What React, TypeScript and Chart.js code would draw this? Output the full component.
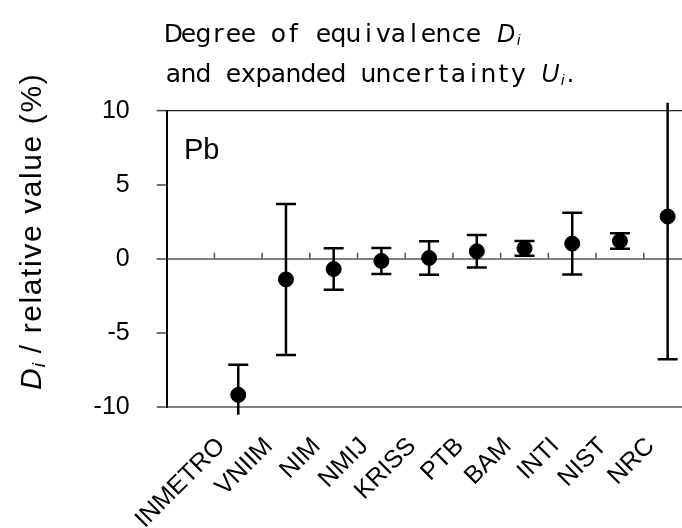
import React, { useEffect, useRef } from "react";
import { Chart, registerables } from "chart.js";

Chart.register(...registerables);

// ---- data ----
const institutes = ["", "INMETRO", "VNIIM", "NIM", "NMIJ", "KRISS", "PTB", "BAM", "INTI", "NIST", "NRC"];
const degreeValues: (number | null)[] = [null, -9.2, -1.4, -0.7, -0.15, 0.05, 0.5, 0.7, 1.02, 1.2, 2.85];
const expandedU: (number | null)[] = [null, 2.03, 5.1, 1.4, 0.88, 1.13, 1.1, 0.5, 2.08, 0.52, 9.65];
const yTickValues = [-10, -5, 0, 5, 10];
const yMin = -10;
const yMax = 10;
const elementLabel = "Pb";
const titleLine1 = "Degree of equivalence ";
const titleLine2 = "and expanded uncertainty ";

const SANS = "'Liberation Sans', Arial, sans-serif";
const GOTHIC = "'DejaVu Sans', sans-serif";

function drawMono(ctx: CanvasRenderingContext2D, text: string, x: number, y: number, cell: number) {
  ctx.textAlign = "center";
  for (let i = 0; i < text.length; i++) {
    ctx.fillText(text[i], x + i * cell + cell / 2, y);
  }
  return x + text.length * cell;
}

const errorBarPlugin = {
  id: "errorBars",
  beforeDatasetsDraw(chart: any) {
    const { ctx, chartArea, scales } = chart;
    const xs = scales.x;
    const ys = scales.y;
    ctx.save();
    // category tick marks on the zero line (pointing up)
    const y0 = ys.getPixelForValue(0);
    ctx.strokeStyle = "#555";
    ctx.lineWidth = 1.5;
    for (let k = 1; k < institutes.length; k++) {
      const xb = (xs.getPixelForValue(k - 1) + xs.getPixelForValue(k)) / 2;
      ctx.beginPath();
      ctx.moveTo(xb, y0 - 6);
      ctx.lineTo(xb, y0);
      ctx.stroke();
    }
    ctx.beginPath();
    ctx.rect(chartArea.left, chartArea.top - 8, chartArea.right - chartArea.left, chartArea.bottom - chartArea.top + 16);
    ctx.clip();
    ctx.strokeStyle = "#000";
    ctx.lineWidth = 2.5;
    for (let i = 0; i < degreeValues.length; i++) {
      const d = degreeValues[i];
      const u = expandedU[i];
      if (d == null || u == null) continue;
      const x = xs.getPixelForValue(i);
      const yt = ys.getPixelForValue(d + u);
      const yb = ys.getPixelForValue(d - u);
      ctx.beginPath();
      ctx.moveTo(x, yt);
      ctx.lineTo(x, yb);
      ctx.moveTo(x - 10, yt);
      ctx.lineTo(x + 10, yt);
      ctx.moveTo(x - 10, yb);
      ctx.lineTo(x + 10, yb);
      ctx.stroke();
    }
    ctx.restore();
  },
};

const textPlugin = {
  id: "texts",
  afterDraw(chart: any) {
    const { ctx } = chart;
    ctx.save();
    ctx.fillStyle = "#000";
    ctx.textBaseline = "alphabetic";

    // title
    ctx.font = `25px ${GOTHIC}`;
    let x = drawMono(ctx, titleLine1, 166, 41.5, 15);
    ctx.textAlign = "left";
    ctx.font = `italic 25px ${SANS}`;
    ctx.fillText("D", x + 1, 41.5);
    let w = ctx.measureText("D").width;
    ctx.font = `italic 15px ${SANS}`;
    ctx.fillText("i", x + 1 + w + 2, 45);

    ctx.font = `25px ${GOTHIC}`;
    x = drawMono(ctx, titleLine2, 166, 81.5, 15);
    ctx.textAlign = "left";
    ctx.font = `italic 25px ${SANS}`;
    ctx.fillText("U", x, 81.5);
    w = ctx.measureText("U").width;
    ctx.font = `italic 15px ${SANS}`;
    ctx.fillText("i", x + w + 2, 85);
    const wi = ctx.measureText("i").width;
    ctx.font = `25px ${GOTHIC}`;
    ctx.fillText(".", x + w + 2 + wi + 2, 81.5);

    // y axis title
    ctx.translate(41, 390);
    ctx.rotate(-Math.PI / 2);
    ctx.textAlign = "left";
    ctx.font = `italic 30px ${SANS}`;
    ctx.fillText("D", 0, 0);
    let cx = ctx.measureText("D").width;
    ctx.font = `italic 19px ${SANS}`;
    ctx.fillText("i", cx + 1, 4);
    cx += ctx.measureText("i").width + 1;
    (ctx as any).letterSpacing = "1.6px";
    ctx.font = `30px ${SANS}`;
    ctx.fillText(" / relative value (%)", cx, 0);
    (ctx as any).letterSpacing = "0px";
    ctx.setTransform(1, 0, 0, 1, 0, 0);

    // panel label
    ctx.font = `29px ${SANS}`;
    ctx.textAlign = "left";
    ctx.fillText(elementLabel, 184, 159);
    ctx.restore();
  },
};

export default function App() {
  const ref = useRef<HTMLCanvasElement | null>(null);
  useEffect(() => {
    if (!ref.current) return;
    const chart = new Chart(ref.current, {
      type: "line",
      data: {
        labels: institutes,
        datasets: [
          {
            data: degreeValues as any,
            showLine: false,
            pointRadius: 7.5,
            pointHoverRadius: 7.5,
            pointBackgroundColor: "#000",
            pointBorderColor: "#000",
            borderColor: "#000",
            backgroundColor: "#000",
          },
        ],
      },
      options: {
        animation: false,
        responsive: false,
        maintainAspectRatio: false,
        events: [],
        layout: { padding: { top: 110.7, right: 7.5, left: 0, bottom: 0 } },
        plugins: { legend: { display: false }, tooltip: { enabled: false }, title: { display: false } },
        scales: {
          x: {
            type: "category",
            offset: true,
            grid: { display: false, drawTicks: false },
            border: { display: false },
            ticks: {
              autoSkip: false,
              maxRotation: 45,
              minRotation: 45,
              color: "#000",
              padding: 25,
              labelOffset: -17,
              font: { family: SANS, size: 25 },
            },
            afterFit: (s: any) => {
              s.height = 121.3;
              s.paddingLeft = 0;
              s.paddingRight = 0;
            },
          },
          y: {
            min: yMin,
            max: yMax,
            afterBuildTicks: (s: any) => {
              s.ticks = yTickValues.map((v) => ({ value: v }));
            },
            grid: {
              drawTicks: true,
              tickLength: 10,
              color: (c: any) => {
                const v = c.tick ? c.tick.value : null;
                if (v === 10) return "#222";
                if (v === 0 || v === -10) return "#808080";
                return "rgba(0,0,0,0)";
              },
              lineWidth: (c: any) => (c.tick && c.tick.value === 10 ? 1.2 : 2),
              tickColor: "#444",
              tickWidth: 1.5,
            },
            border: { display: true, color: "#000", width: 2 },
            ticks: {
              color: "#000",
              padding: 27,
              font: { family: SANS, size: 25 },
            },
            afterFit: (s: any) => {
              s.width = 166.7;
              s.paddingTop = 0;
              s.paddingBottom = 0;
            },
          },
        },
      },
      plugins: [errorBarPlugin, textPlugin],
    });
    return () => chart.destroy();
  }, []);
  return (
    <div
      style={{
        position: "fixed",
        left: 0,
        top: 0,
        width: 682,
        height: 528,
        overflow: "hidden",
        background: "#fff",
      }}
    >
      <canvas ref={ref} width={700} height={528} style={{ display: "block", width: 700, height: 528 }} />
    </div>
  );
}
